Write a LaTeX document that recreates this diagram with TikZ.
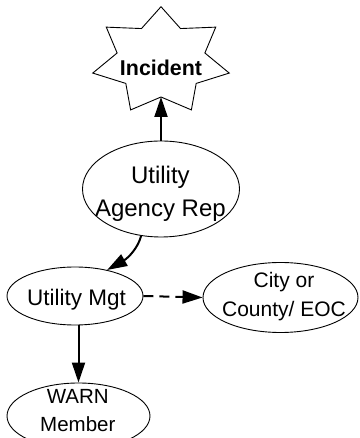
\documentclass[tikz,border=0pt]{standalone}
\usepackage{fontspec}
\setmainfont{Liberation Sans}
\usetikzlibrary{shapes.geometric,arrows.meta}

\begin{document}
\begin{tikzpicture}[
  x=1pt, y=1pt,
  bubble/.style={ellipse, draw, line width=0.9pt, inner sep=0pt},
  label text/.style={inner sep=0pt, align=center},
  arr/.style={line width=2pt, -{Triangle[length=20pt,width=13pt]}},
  dasharr/.style={arr, dash pattern=on 10pt off 6pt},
]
% page frame (the lower ellipse runs past the bottom edge)
\clip (0,0) rectangle (359,438);

% seven-pointed burst around the incident label
\draw[line width=0.9pt, line join=miter, shift={(161,377)}]
  (90:70 and 54.3)
  \foreach \k in {0,...,6} {
    -- ({90+(\k+0.5)*360/7}:45 and 36) -- ({90+(\k+1)*360/7}:70 and 54.3)
  } -- cycle;
\coordinate (starbot) at (161,341);
\node[label text, font=\fontsize{21.4}{26}\selectfont\bfseries] (incident)
  at (161,369.8) {Incident};

% ellipses
\node[bubble, minimum width=157pt, minimum height=96pt] (rep) at (161,249) {};
\node[bubble, minimum width=136pt, minimum height=58pt] (mgt) at (75,142) {};
\node[bubble, minimum width=155pt, minimum height=70pt] (city) at (280.5,140.5) {};
\node[bubble, minimum width=143pt, minimum height=66pt] (warn) at (78.5,22) {};

% their texts
\node[label text, font=\fontsize{24}{32.7}\selectfont] (reptext) at (160.4,243.9)
  {Utility\\Agency Rep};
\node[label text, font=\fontsize{22.5}{28}\selectfont] (mgttext) at (76.5,138.5)
  {Utility Mgt};
\node[label text, font=\fontsize{21}{28.7}\selectfont] (citytext) at (284,141.1)
  {City or\\County/ EOC};
\node[label text, font=\fontsize{20.5}{27.4}\selectfont] (warntext) at (77.8,27.4)
  {WARN\\Member};

% connectors
\draw[arr] (rep.north) -- (starbot);
\draw[arr] (rep.247) .. controls +(-3,-12) and +(21,12) .. (mgt.39);
\draw[dasharr] (mgt.east) -- (city.west);
\draw[arr] (warn.north |- mgt.south) -- (warn.north);
\end{tikzpicture}
\end{document}
